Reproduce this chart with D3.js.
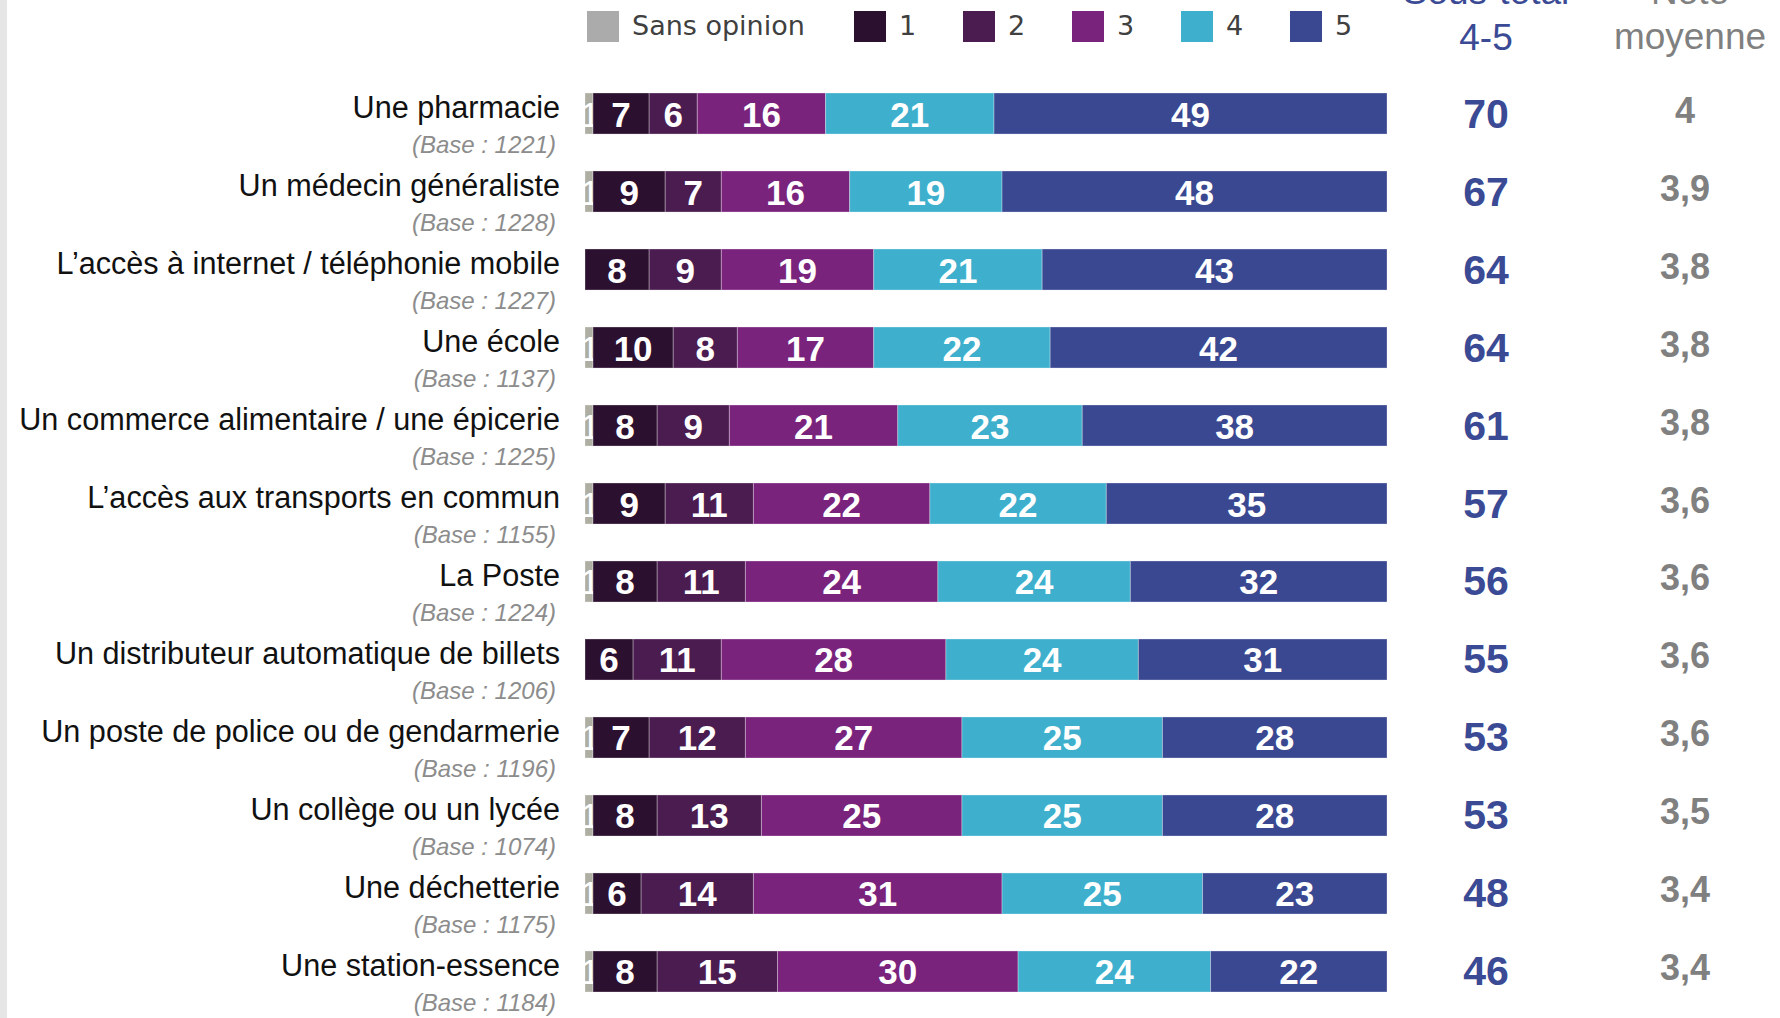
<!DOCTYPE html>
<html>
<head>
<meta charset="utf-8">
<script src="https://cdn.jsdelivr.net/npm/d3@7"></script>
<style>
  body { margin: 0; background: #fff; }
  svg { display: block; font-family: 'Liberation Sans', Arial, sans-serif; }
</style>
</head>
<body>
<div class="container"></div>
<script>
const w = 1780;
const h = 1018;
let svg = null;

const categories = [
  'Une pharmacie',
  'Un médecin généraliste',
  'L’accès à internet / téléphonie mobile',
  'Une école',
  'Un commerce alimentaire / une épicerie',
  'L’accès aux transports en commun',
  'La Poste',
  'Un distributeur automatique de billets',
  'Un poste de police ou de gendarmerie',
  'Un collège ou un lycée',
  'Une déchetterie',
  'Une station-essence',
];
const bases = [1221, 1228, 1227, 1137, 1225, 1155, 1224, 1206, 1196, 1074, 1175, 1184];

const sansOpinion = [1, 1, 0, 1, 1, 1, 1, 0, 1, 1, 1, 1];
const note1 = [7, 9, 8, 10, 8, 9, 8, 6, 7, 8, 6, 8];
const note2 = [6, 7, 9, 8, 9, 11, 11, 11, 12, 13, 14, 15];
const note3 = [16, 16, 19, 17, 21, 22, 24, 28, 27, 25, 31, 30];
const note4 = [21, 19, 21, 22, 23, 22, 24, 24, 25, 25, 25, 24];
const note5 = [49, 48, 43, 42, 38, 35, 32, 31, 28, 28, 23, 22];

const sousTotal = [70, 67, 64, 64, 61, 57, 56, 55, 53, 53, 48, 46];
const noteMoyenne = [4, 3.9, 3.8, 3.8, 3.8, 3.6, 3.6, 3.6, 3.6, 3.5, 3.4, 3.4];

const keys = ['so', 'n1', 'n2', 'n3', 'n4', 'n5'];
const legendLabels = ['Sans opinion', '1', '2', '3', '4', '5'];
const colors = ['#aeaea3', '#2c1030', '#4b1c50', '#7a237d', '#3eb0cd', '#3a4891'];

const table = categories.map((c, i) => ({
  cat: c,
  so: sansOpinion[i],
  n1: note1[i],
  n2: note2[i],
  n3: note3[i],
  n4: note4[i],
  n5: note5[i],
}));

const x = d3.scaleLinear().domain([0, 100]).range([585, 1387]);
const y = d3.scaleBand().domain(categories).range([93, 992]).paddingInner(0.474).paddingOuter(0);
const color = d3.scaleOrdinal().domain(keys).range(colors);

window.onload = () => {
  setSvg();
  drawBars();
  drawLabels();
  drawColumns();
  drawLegend();
};

function setSvg() {
  svg = d3.select('.container').append('svg').attr('width', w).attr('height', h);
  // light strip on the left edge
  svg.append('rect').attr('x', 0).attr('y', 0).attr('width', 7).attr('height', h).attr('fill', '#e6e6e6');
}

function drawBars() {
  const series = d3.stack().keys(keys)(table);
  const defs = svg.append('defs');

  const groups = svg.selectAll('g.serie').data(series).enter().append('g')
    .attr('class', 'serie')
    .attr('fill', (s) => color(s.key));

  groups.each(function (s) {
    const g = d3.select(this);
    const segs = s.filter((d) => d[1] - d[0] > 0);

    segs.forEach((d) => {
      const id = 'clip-' + s.key + '-' + categories.indexOf(d.data.cat);
      defs.append('clipPath').attr('id', id).append('rect')
        .attr('x', x(d[0]))
        .attr('y', y(d.data.cat))
        .attr('width', x(d[1]) - x(d[0]))
        .attr('height', y.bandwidth());
    });

    g.selectAll('rect').data(segs).enter().append('rect')
      .attr('x', (d) => x(d[0]))
      .attr('y', (d) => y(d.data.cat))
      .attr('width', (d) => x(d[1]) - x(d[0]))
      .attr('height', y.bandwidth())
      .attr('stroke', 'rgba(255,255,255,0.3)')
      .attr('stroke-width', 1);

    // tiny segments: thinner digit, nudged so its stem stays in view
    const small = (d) => x(d[1]) - x(d[0]) < 15;

    g.selectAll('text').data(segs).enter().append('text')
      .attr('clip-path', (d) => 'url(#clip-' + s.key + '-' + categories.indexOf(d.data.cat) + ')')
      .attr('x', (d) => (x(d[0]) + x(d[1])) / 2 + (small(d) ? 1 : 0))
      .attr('y', (d) => y(d.data.cat) + y.bandwidth() / 2 + 13)
      .attr('text-anchor', 'middle')
      .attr('fill', '#fff')
      .attr('font-size', '35px')
      .attr('font-weight', (d) => (small(d) ? 'normal' : 'bold'))
      .text((d) => d[1] - d[0]);
  });
}

function drawLabels() {
  svg.selectAll('text.cat').data(categories).enter().append('text')
    .attr('class', 'cat')
    .attr('x', 560)
    .attr('y', (d) => y(d) + 25)
    .attr('text-anchor', 'end')
    .attr('font-size', '30.6px')
    .attr('fill', '#111')
    .text((d) => d);

  svg.selectAll('text.base').data(bases).enter().append('text')
    .attr('class', 'base')
    .attr('x', 556)
    .attr('y', (d, i) => y(categories[i]) + 60)
    .attr('text-anchor', 'end')
    .attr('font-size', '24px')
    .attr('font-style', 'italic')
    .attr('fill', '#8c8c8c')
    .text((d) => '(Base : ' + d + ')');
}

function drawColumns() {
  const hdr = svg.append('g').attr('font-size', '37px').attr('text-anchor', 'middle');
  hdr.append('text').attr('x', 1486).attr('y', 4).attr('fill', '#3a4a94').text('Sous-total');
  hdr.append('text').attr('x', 1486).attr('y', 50).attr('fill', '#3a4a94').text('4-5');
  hdr.append('text').attr('x', 1690).attr('y', 4).attr('fill', '#808080').text('Note');
  hdr.append('text').attr('x', 1690).attr('y', 49).attr('fill', '#808080').text('moyenne');

  svg.selectAll('text.st').data(sousTotal).enter().append('text')
    .attr('class', 'st')
    .attr('x', 1486)
    .attr('y', (d, i) => y(categories[i]) + y.bandwidth() / 2 + 14)
    .attr('text-anchor', 'middle')
    .attr('font-size', '41px')
    .attr('font-weight', 'bold')
    .attr('fill', '#3a4a94')
    .text((d) => d);

  svg.selectAll('text.nm').data(noteMoyenne).enter().append('text')
    .attr('class', 'nm')
    .attr('x', 1685)
    .attr('y', (d, i) => y(categories[i]) + y.bandwidth() / 2 + 9)
    .attr('text-anchor', 'middle')
    .attr('font-size', '36px')
    .attr('font-weight', 'bold')
    .attr('fill', '#808080')
    .text((d) => String(d).replace('.', ','));
}

function drawLegend() {
  const legX = (i) => (i === 0 ? 587 : 854 + (i - 1) * 109);
  const items = svg.selectAll('g.leg').data(legendLabels).enter().append('g')
    .attr('class', 'leg')
    .attr('transform', (d, i) => 'translate(' + legX(i) + ',0)');

  items.append('rect')
    .attr('x', 0)
    .attr('y', 11)
    .attr('width', 32)
    .attr('height', 31)
    .attr('fill', (d, i) => (i === 0 ? '#ababab' : colors[i]));

  items.append('text')
    .attr('x', 45)
    .attr('y', 35)
    .attr('font-family', "'DejaVu Sans', Verdana, sans-serif")
    .attr('font-size', '27px')
    .attr('fill', '#404040')
    .text((d) => d);
}
</script>
</body>
</html>
